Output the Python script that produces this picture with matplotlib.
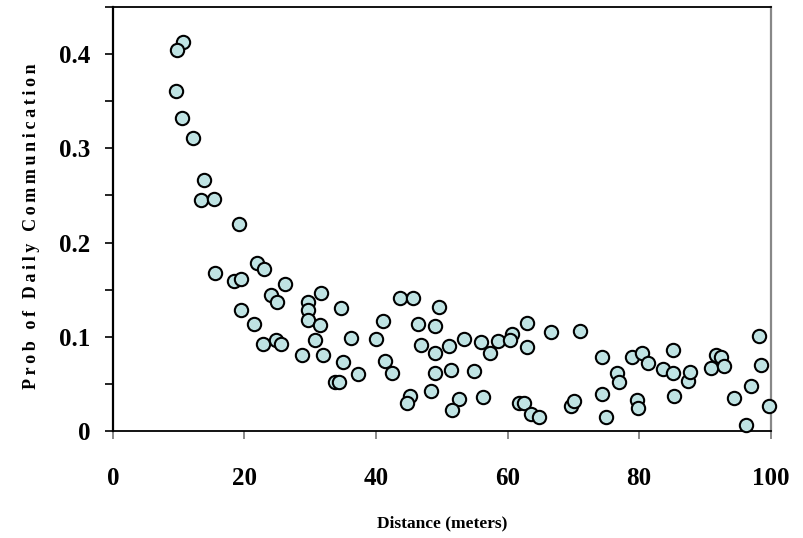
import matplotlib
matplotlib.use('Agg')
from matplotlib import pyplot as plt
from matplotlib.ticker import MultipleLocator, FixedLocator

plt.rcParams['font.family'] = ['Liberation Serif', 'DejaVu Serif']

# distance (meters) and probability of daily communication
dist = [10.6, 9.7, 9.6, 10.5, 12.1, 13.8, 13.4, 15.4, 19.1, 15.5,
        21.9, 23.0, 18.4, 19.4, 26.2, 24.1, 25.0, 31.7, 29.6, 29.6,
        29.6, 19.5, 21.5, 34.6, 31.5, 30.7, 36.2, 40.0, 41.0, 22.8,
        24.8, 25.5, 28.7, 31.9, 35.0, 37.2, 33.8, 34.3, 43.6, 45.6,
        49.6, 46.4, 48.9, 46.9, 48.9, 51.1, 53.4, 55.9, 57.3, 58.6,
        60.6, 60.4, 63.0, 62.9, 66.6, 71.0, 41.4, 42.4, 48.9, 51.4,
        54.9, 48.4, 45.2, 44.7, 52.6, 51.5, 56.2, 61.8, 62.5, 63.6,
        64.8, 69.7, 70.1, 74.3, 74.3, 74.9, 76.7, 77.0, 78.9, 80.4,
        81.3, 79.7, 79.8, 83.6, 85.1, 85.1, 85.3, 87.4, 87.7, 91.0,
        91.7, 92.4, 92.9, 94.5, 97.0, 96.3, 98.2, 98.6, 99.8]
prob = [0.413, 0.404, 0.361, 0.332, 0.311, 0.266, 0.245, 0.246, 0.220, 0.168,
        0.178, 0.172, 0.159, 0.161, 0.156, 0.144, 0.137, 0.146, 0.137, 0.128,
        0.118, 0.128, 0.114, 0.130, 0.112, 0.097, 0.099, 0.098, 0.117, 0.092,
        0.097, 0.092, 0.081, 0.081, 0.073, 0.060, 0.052, 0.052, 0.141, 0.141,
        0.132, 0.114, 0.111, 0.091, 0.083, 0.090, 0.098, 0.094, 0.083, 0.095,
        0.103, 0.097, 0.115, 0.089, 0.105, 0.106, 0.074, 0.062, 0.062, 0.065,
        0.064, 0.042, 0.037, 0.030, 0.034, 0.022, 0.036, 0.030, 0.030, 0.018,
        0.015, 0.026, 0.032, 0.078, 0.039, 0.015, 0.062, 0.052, 0.079, 0.083,
        0.072, 0.033, 0.024, 0.066, 0.086, 0.062, 0.037, 0.053, 0.063, 0.067,
        0.081, 0.078, 0.069, 0.035, 0.048, 0.006, 0.101, 0.070, 0.026]

x_ticks = [0, 20, 40, 60, 80, 100]
y_ticks = [0, 0.1, 0.2, 0.3, 0.4]
y_labels = ['0', '0.1', '0.2', '0.3', '0.4']

fig = plt.figure(figsize=(8.04, 5.38), dpi=100)
ax = fig.add_axes([0.1405, 0.199, 0.818, 0.788])

ax.scatter(dist, prob, s=92, facecolor='#BFE3E3', edgecolor='black',
           linewidth=1.5, zorder=3, clip_on=False)

ax.set_xlim(0, 100)
ax.set_ylim(0, 0.45)

ax.xaxis.set_major_locator(FixedLocator(x_ticks))
ax.yaxis.set_major_locator(FixedLocator(y_ticks))
ax.set_yticklabels(y_labels)
ax.yaxis.set_minor_locator(MultipleLocator(0.05))

ax.tick_params(axis='y', which='both', direction='out', length=6, width=1.2,
               color='black', pad=10, labelsize=18)
ax.tick_params(axis='x', direction='out', length=6, width=1.2,
               color='#777777', pad=20, labelsize=18)
for lab in ax.get_xticklabels() + ax.get_yticklabels():
    lab.set_fontweight('bold')

ax.spines['left'].set_linewidth(1.6)
ax.spines['bottom'].set_linewidth(1.3)
ax.spines['top'].set_linewidth(1.3)
ax.spines['right'].set_linewidth(1.6)
ax.spines['right'].set_color('#888888')

ax.set_xlabel('Distance (meters)', fontsize=12.5, fontweight='bold', labelpad=18)
ylab = '\u2009'.join('Prob of Daily Communication')
fig.text(0.039, 0.58, ylab, rotation=90, fontsize=13, fontweight='bold',
         ha='center', va='center')

plt.savefig('out.png', dpi=100)
